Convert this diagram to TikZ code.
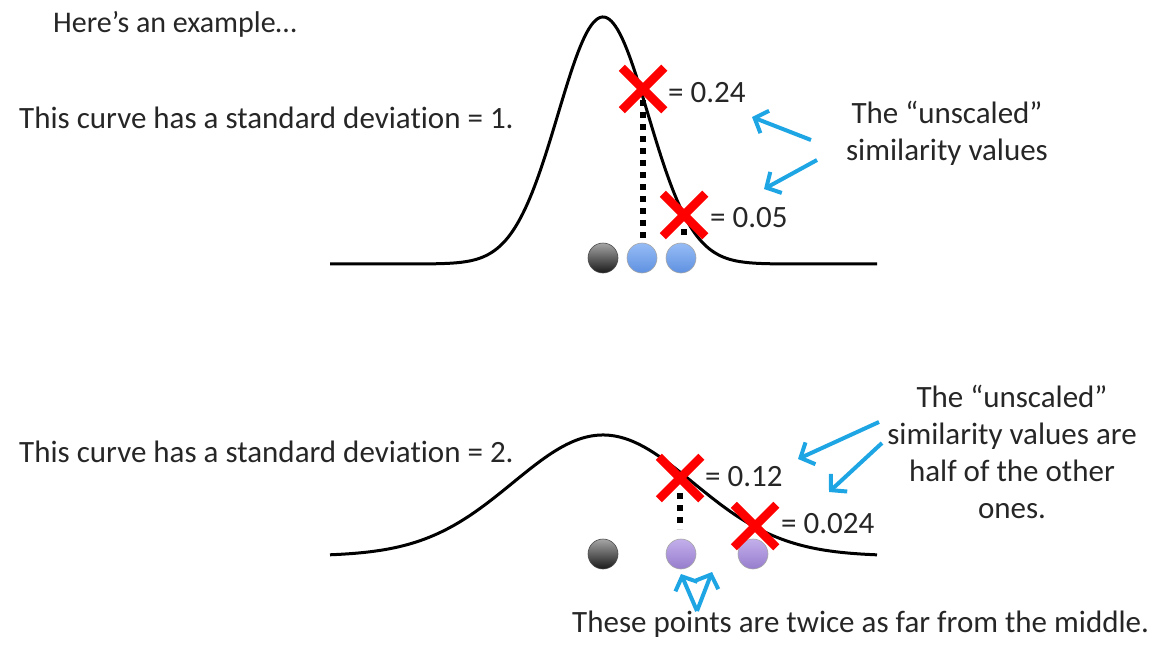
\documentclass[tikz,border=0pt]{standalone}
\usepackage{fontspec}
\setmainfont{Carlito}[Ligatures=NoCommon]
\usetikzlibrary{shapes.misc,arrows.meta}
\definecolor{txtgray}{RGB}{38,38,38}
\definecolor{arrowblue}{RGB}{30,165,228}
\definecolor{xred}{RGB}{255,0,0}
\tikzset{
  txt/.style={font=\fontsize{31}{37}\selectfont, text=txtgray, inner sep=0pt},
  crossmark/.style={cross out, draw=xred, line width=8.5pt, minimum size=34pt, inner sep=0pt},
  ball/.style={circle, minimum size=30pt, inner sep=0pt, line width=0.6pt},
  grayball/.style={ball, draw=gray!60!black, top color=gray!70, bottom color=black!90},
  blueball/.style={ball, draw=gray!70, top color={rgb,255:red,150;green,188;blue,245}, bottom color={rgb,255:red,95;green,145;blue,225}},
  purpleball/.style={ball, draw=gray!70, top color={rgb,255:red,195;green,175;blue,235}, bottom color={rgb,255:red,150;green,125;blue,205}},
  curve/.style={line width=3pt, black},
  dots/.style={line width=6pt, dash pattern=on 6pt off 6pt, black},
  barrow/.style={draw=arrowblue, line width=4pt, -{Straight Barb[length=11pt,width=24pt]}},
}
\begin{document}
\begin{tikzpicture}[x=1pt,y=-1pt]
\useasboundingbox (0,0) rectangle (1157,653);

% texts
\node[txt, font=\fontsize{30}{36}\selectfont, anchor=base west] (ex) at (53,32) {Here’s an example…};
\node[txt, anchor=base west] (sd1) at (19,128) {This curve has a standard deviation = 1.};
\node[txt, anchor=base west] (sd2) at (19,462) {This curve has a standard deviation = 2.};
\node[txt, align=center, anchor=base] (uns1) at (947,160) {The “unscaled”\\similarity values};
\node[txt, align=center, anchor=base] (uns2) at (1012,518) {The “unscaled”\\similarity values are\\half of the other\\ones.};
\node[txt, anchor=base west] (far) at (572,632) {These points are twice as far from the middle.};

% curves
\draw[curve] plot[domain=330:877, samples=250] (\x, {264-247*exp(-0.5*((\x-603)/45)^2)});
\draw[curve] plot[domain=330:877, samples=250] (\x, {556-121*exp(-0.5*((\x-603)/90)^2)});

% balls
\node[grayball] (g1) at (603,258) {};
\node[blueball] (b1) at (642,258) {};
\node[blueball] (b2) at (681,258) {};
\node[grayball] (g2) at (603,554) {};
\node[purpleball] (p1) at (681,554) {};
\node[purpleball] (p2) at (753,554) {};

% cross coordinates
\coordinate (c1) at (643,89);
\coordinate (c2) at (684,215);
\coordinate (c3) at (680,478);
\coordinate (c4) at (755,526);

% dotted lines
\draw[dots] (c1 |- 0,100) -- (c1 |- 0,241);
\draw[dots] (c2 |- 0,229) -- (c2 |- 0,241);
\draw[dots] (c3 |- 0,493) -- (c3 |- 0,529);

% crosses
\node[crossmark] (x1) at (c1) {};
\node[crossmark] (x2) at (c2) {};
\node[crossmark] (x3) at (c3) {};
\node[crossmark] (x4) at (c4) {};

% values
\node[txt, anchor=base west] (v1) at (668,102) {= 0.24};
\node[txt, anchor=base west] (v2) at (710,227) {= 0.05};
\node[txt, anchor=base west] (v3) at (705,486) {= 0.12};
\node[txt, anchor=base west] (v4) at (781,533) {= 0.024};

% arrows
\coordinate (a1s) at (811,140); \coordinate (a1e) at (752,117);
\coordinate (a2s) at (817,160); \coordinate (a2e) at (764,189);
\coordinate (a3s) at (879,422); \coordinate (a3e) at (798,459);
\coordinate (a4s) at (882,443); \coordinate (a4e) at (829,492);
\coordinate (a5s) at (697,611); \coordinate (a5e) at (681,574);
\coordinate (a6e) at (712,572);
\draw[barrow] (a1s) -- (a1e);
\draw[barrow] (a2s) -- (a2e);
\draw[barrow] (a3s) -- (a3e);
\draw[barrow] (a4s) -- (a4e);
\draw[barrow] (a5s) -- (a5e);
\draw[barrow] (a5s) -- (a6e);
\end{tikzpicture}
\end{document}
